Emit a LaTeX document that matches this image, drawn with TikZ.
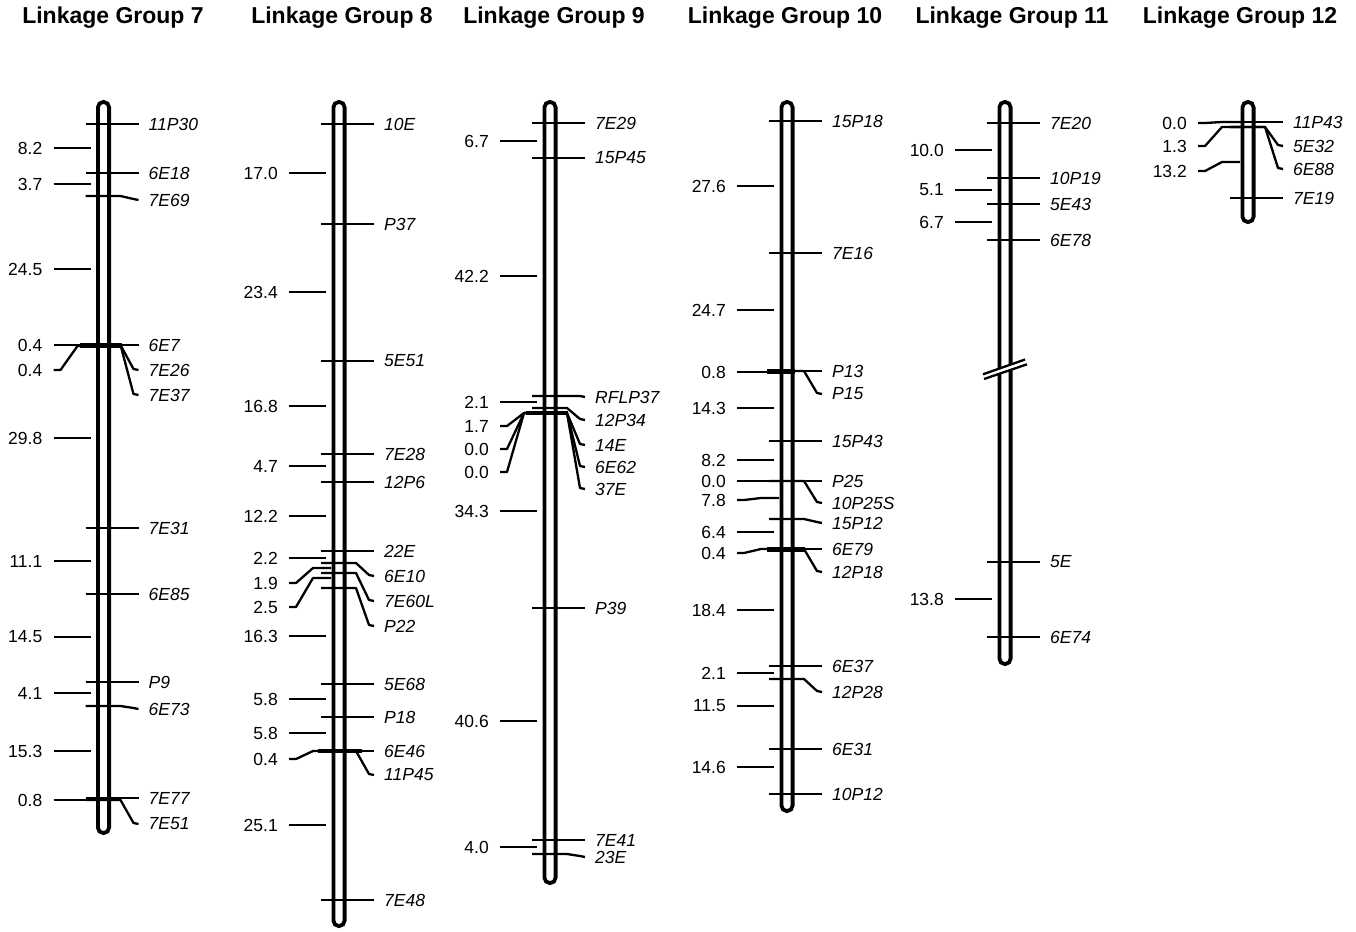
\documentclass[tikz,border=0pt]{standalone}
\usepackage{fontspec}
\setmainfont{Liberation Sans}
\newcommand\gx{0}
\newcommand\rmk[4]{%
  \node[mlab] (#1) at ({\gx+45},#3) {#4};
  \ifdim #2pt=#3pt
    \draw[tick] ({\gx-18},#2) -- ([xshift=-10pt]#1.west);
  \else
    \draw[tick] ({\gx-18},#2) -- ({\gx+17},#2) -- ({\gx+30},{#3-1}) -- ([xshift=-10pt]#1.west);
  \fi}
\newcommand\lmk[4]{%
  \node[dlab] (#1) at ({\gx-61},#2) {#4};
  \ifdim #2pt=#3pt
    \draw[tick] ([xshift=11pt]#1.east) -- ({\gx-13},#2);
  \else
    \draw[tick] ([xshift=11pt]#1.east) -- ({\gx-43},#2) -- ({\gx-26},#3) -- ({\gx-8},#3);
  \fi}
\newcommand\chrom[2]{\draw[barst] ({\gx-5.6},#1) rectangle ({\gx+5.6},#2);}
\begin{document}
\begin{tikzpicture}[x=1pt,y=-1pt,
  tick/.style={line width=2.3pt, line join=round},
  cl/.style={line width=4.2pt},
  barst/.style={line width=3.8pt, fill=white, rounded corners=5.5pt},
  mlab/.style={anchor=west, inner sep=0pt, font=\fontsize{17.5}{20}\selectfont\itshape},
  dlab/.style={anchor=east, inner sep=0pt, font=\fontsize{17.5}{20}\selectfont},
  ttl/.style={inner sep=0pt, font=\fontsize{23}{26}\selectfont\bfseries}]
\useasboundingbox (0,0) rectangle (1356,931);

% titles
\node[ttl] (t7) at (113,18) {Linkage Group 7};
\node[ttl] (t8) at (342,18) {Linkage Group 8};
\node[ttl] (t9) at (554,18) {Linkage Group 9};
\node[ttl] (t10) at (785,18) {Linkage Group 10};
\node[ttl] (t11) at (1012,18) {Linkage Group 11};
\node[ttl] (t12) at (1240,18) {Linkage Group 12};

% ---------- LG7 ----------
\renewcommand\gx{103.5}
\chrom{101.9}{833.1}
\rmk{m7a}{124}{124}{11P30}
\rmk{m7b}{173}{173}{6E18}
\rmk{m7c}{196}{200}{7E69}
\rmk{m7d}{345}{345}{6E7}
\rmk{m7e}{345}{370}{7E26}
\rmk{m7f}{345}{395}{7E37}
\rmk{m7g}{528}{528}{7E31}
\rmk{m7h}{594}{594}{6E85}
\rmk{m7i}{682}{682}{P9}
\rmk{m7j}{706}{709}{6E73}
\rmk{m7k}{798}{798}{7E77}
\rmk{m7l}{800}{824}{7E51}
\lmk{d7a}{148}{148}{8.2}
\lmk{d7b}{184}{184}{3.7}
\lmk{d7c}{269}{269}{24.5}
\lmk{d7d}{345}{345}{0.4}
\lmk{d7e}{370}{346}{0.4}
\lmk{d7f}{438}{438}{29.8}
\lmk{d7g}{561}{561}{11.1}
\lmk{d7h}{637}{637}{14.5}
\lmk{d7i}{693}{693}{4.1}
\lmk{d7j}{751}{751}{15.3}
\lmk{d7k}{800}{800}{0.8}
\draw[cl] (80,345.5) -- (122,345.5);
\draw[cl] (86,799) -- (100,799);

% ---------- LG8 ----------
\renewcommand\gx{339}
\chrom{101.9}{926.1}
\rmk{m8a}{124}{124}{10E}
\rmk{m8b}{224}{224}{P37}
\rmk{m8c}{361}{361}{5E51}
\rmk{m8d}{454}{454}{7E28}
\rmk{m8e}{482}{482}{12P6}
\rmk{m8f}{551}{551}{22E}
\rmk{m8g}{563}{576}{6E10}
\rmk{m8h}{573}{601}{7E60L}
\rmk{m8i}{588}{626}{P22}
\rmk{m8j}{684}{684}{5E68}
\rmk{m8k}{717}{717}{P18}
\rmk{m8l}{751}{751}{6E46}
\rmk{m8m}{751}{775}{11P45}
\rmk{m8n}{900}{900}{7E48}
\lmk{d8a}{173}{173}{17.0}
\lmk{d8b}{292}{292}{23.4}
\lmk{d8c}{406}{406}{16.8}
\lmk{d8d}{466}{466}{4.7}
\lmk{d8e}{516}{516}{12.2}
\lmk{d8f}{558}{558}{2.2}
\lmk{d8g}{583}{568}{1.9}
\lmk{d8h}{607}{578}{2.5}
\lmk{d8i}{636}{636}{16.3}
\lmk{d8j}{699}{699}{5.8}
\lmk{d8k}{733}{733}{5.8}
\lmk{d8l}{759}{751}{0.4}
\lmk{d8m}{825}{825}{25.1}
\draw[cl] (318,751) -- (362,751);

% ---------- LG9 ----------
\renewcommand\gx{550}
\chrom{101.9}{883.1}
\rmk{m9a}{123}{123}{7E29}
\rmk{m9b}{158}{158}{15P45}
\rmk{m9c}{396}{397}{RFLP37}
\rmk{m9d}{408}{420}{12P34}
\rmk{m9e}{413}{445}{14E}
\rmk{m9f}{413}{467}{6E62}
\rmk{m9g}{413}{489}{37E}
\rmk{m9h}{608}{608}{P39}
\rmk{m9i}{840}{840}{7E41}
\rmk{m9j}{854}{857}{23E}
\lmk{d9a}{141}{141}{6.7}
\lmk{d9b}{276}{276}{42.2}
\lmk{d9c}{402}{402}{2.1}
\lmk{d9d}{426}{413}{1.7}
\lmk{d9e}{449}{413}{0.0}
\lmk{d9f}{472}{413}{0.0}
\lmk{d9g}{511}{511}{34.3}
\lmk{d9h}{721}{721}{40.6}
\lmk{d9i}{847}{847}{4.0}
\draw[cl] (526,413) -- (568,413);

% ---------- LG10 ----------
\renewcommand\gx{787}
\chrom{101.9}{811.1}
\rmk{m10a}{121}{121}{15P18}
\rmk{m10b}{253}{253}{7E16}
\rmk{m10c}{371}{371}{P13}
\rmk{m10d}{371}{394}{P15}
\rmk{m10e}{441}{441}{15P43}
\rmk{m10f}{481}{481}{P25}
\rmk{m10g}{481}{503}{10P25S}
\rmk{m10h}{519}{523}{15P12}
\rmk{m10i}{549}{549}{6E79}
\rmk{m10j}{549}{572}{12P18}
\rmk{m10k}{666}{666}{6E37}
\rmk{m10l}{679}{692}{12P28}
\rmk{m10m}{749}{749}{6E31}
\rmk{m10n}{794}{794}{10P12}
\lmk{d10a}{186}{186}{27.6}
\lmk{d10b}{310}{310}{24.7}
\lmk{d10c}{372}{372}{0.8}
\lmk{d10d}{408}{408}{14.3}
\lmk{d10e}{460}{460}{8.2}
\lmk{d10f}{481}{481}{0.0}
\lmk{d10g}{500}{498}{7.8}
\lmk{d10h}{532}{532}{6.4}
\lmk{d10i}{553}{549}{0.4}
\lmk{d10j}{610}{610}{18.4}
\lmk{d10k}{673}{673}{2.1}
\lmk{d10l}{706}{706}{11.5}
\lmk{d10m}{767}{767}{14.6}
\draw[cl] (767,371.5) -- (795,371.5);
\draw[cl] (767,549.5) -- (805,549.5);

% ---------- LG11 ----------
\renewcommand\gx{1005}
\chrom{101.9}{664.1}
\rmk{m11a}{123}{123}{7E20}
\rmk{m11b}{178}{178}{10P19}
\rmk{m11c}{204}{204}{5E43}
\rmk{m11d}{240}{240}{6E78}
\rmk{m11e}{562}{562}{5E}
\rmk{m11f}{637}{637}{6E74}
\lmk{d11a}{150}{150}{10.0}
\lmk{d11b}{190}{190}{5.1}
\lmk{d11c}{222}{222}{6.7}
\lmk{d11d}{599}{599}{13.8}
\fill[white] (995,370.1) -- (1015,363.1) -- (1015,368.4) -- (995,375.2) -- cycle;
\draw[tick] (983,374.3) -- (1025,359.5);
\draw[tick] (984,379) -- (1027,364.3);

% ---------- LG12 ----------
\renewcommand\gx{1248}
\chrom{101.9}{222.1}
\rmk{m12a}{122}{122}{11P43}
\rmk{m12b}{127}{146}{5E32}
\rmk{m12c}{127}{169}{6E88}
\rmk{m12d}{198}{198}{7E19}
\lmk{d12a}{123}{122}{0.0}
\lmk{d12b}{146}{127}{1.3}
\lmk{d12c}{171}{162}{13.2}
\end{tikzpicture}
\end{document}
